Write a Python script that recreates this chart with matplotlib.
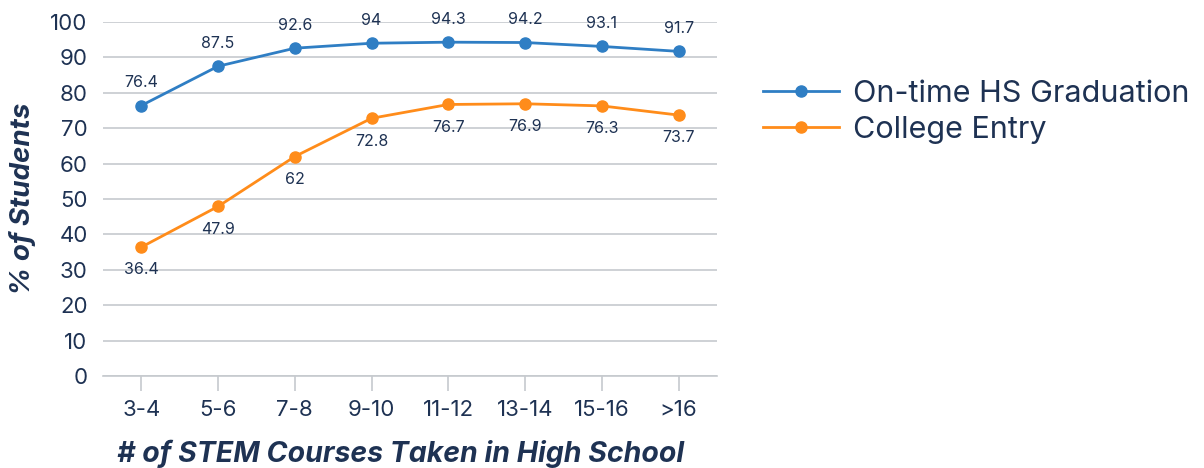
import numpy as np
import matplotlib.pyplot as plt

plt.rcParams['font.family'] = ['Inter', 'DejaVu Sans']

# Datos
categorias = ['3-4', '5-6', '7-8', '9-10', '11-12', '13-14', '15-16', '>16']
graduacion = [76.4, 87.5, 92.6, 94, 94.3, 94.2, 93.1, 91.7]
universidad = [36.4, 47.9, 62, 72.8, 76.7, 76.9, 76.3, 73.7]

azul = '#2F7EC4'
naranja = '#FF8C1A'
texto = '#1E3253'
rejilla = '#C6CACE'

fig = plt.figure(figsize=(12.04, 4.68), dpi=100)
ax = fig.add_axes([0.0855, 0.1966, 0.51, 0.7564])

x = np.arange(len(categorias))
ax.plot(x, graduacion, color=azul, lw=2, marker='o', ms=8, label='On-time HS Graduation', zorder=3)
ax.plot(x, universidad, color=naranja, lw=2, marker='o', ms=8, label='College Entry', zorder=3)

# Etiquetas de valores
for xi, v in zip(x, graduacion):
    ax.annotate(f'{v:g}', (xi, v), xytext=(0, 11), textcoords='offset points',
                ha='center', va='bottom', fontsize=11.5, color=texto)
for xi, v in zip(x, universidad):
    ax.annotate(f'{v:g}', (xi, v), xytext=(0, -11), textcoords='offset points',
                ha='center', va='top', fontsize=11.5, color=texto)

ax.set_xlim(-0.5, len(categorias) - 0.5)
ax.set_ylim(0, 100)
ax.set_yticks(range(0, 101, 10))
ax.set_xticks(x)
ax.set_xticklabels(categorias)
ax.grid(axis='y', color=rejilla, lw=1.2)
ax.set_axisbelow(True)
for s in ['top', 'right', 'left']:
    ax.spines[s].set_visible(False)
ax.spines['bottom'].set_color(rejilla)
ax.spines['bottom'].set_linewidth(1.2)
ax.tick_params(axis='y', length=0, pad=11, labelsize=16, labelcolor=texto)
ax.tick_params(axis='x', length=11, width=1.2, color=rejilla, pad=6, labelsize=16, labelcolor=texto)

ax.set_ylabel('% of Students', fontsize=20, fontweight='bold', fontstyle='italic', color=texto, labelpad=10)
ax.set_xlabel('# of STEM Courses Taken in High School', fontsize=20.5, fontweight='bold',
              fontstyle='italic', color=texto, labelpad=12)
ax.xaxis.set_label_coords(0.485, -0.18)

ax.legend(loc='upper left', bbox_to_anchor=(1.03, 0.915), frameon=False, fontsize=22,
          labelcolor=texto, handlelength=2.5, handletextpad=0.45, labelspacing=0.28)

fig.savefig('out.png', dpi=100)
